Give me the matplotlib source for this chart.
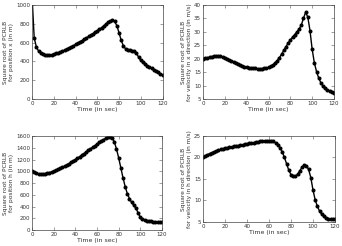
import matplotlib
matplotlib.use("Agg")
import matplotlib.pyplot as plt
import numpy as np

# time grid (sec)
t = np.arange(0, 121, 2)

pos_x = [1100, 650, 555, 510, 490, 478, 470, 467, 468, 472, 478, 485, 492, 500, 510,
         520, 531, 543, 555, 567, 580, 594, 607, 621, 636, 650, 665, 680, 695, 710,
         726, 742, 760, 778, 797, 815, 830, 838, 825, 780, 705, 625, 565, 535, 525,
         520, 515, 508, 490, 445, 410, 390, 372, 355, 340, 325, 310, 296, 282, 268, 255]

vel_x = [20.0, 20.2, 20.4, 20.6, 20.8, 20.9, 21.0, 21.0, 20.9, 20.7, 20.4, 20.0, 19.6,
         19.2, 18.8, 18.4, 18.0, 17.7, 17.4, 17.1, 16.9, 16.7, 16.6, 16.5, 16.4, 16.3,
         16.3, 16.3, 16.4, 16.5, 16.8, 17.2, 17.7, 18.4, 19.3, 20.4, 21.7, 23.1, 24.5,
         25.8, 27.0, 28.0, 29.0, 30.0, 31.0, 32.5, 35.0, 37.3, 35.5, 30.5, 23.5, 18.5,
         15.2, 12.8, 11.0, 9.8, 9.0, 8.4, 7.9, 7.5, 7.2]

pos_h = [1000, 990, 965, 955, 952, 955, 960, 968, 978, 990, 1003, 1018, 1034, 1051,
         1069, 1088, 1108, 1130, 1152, 1175, 1199, 1224, 1250, 1276, 1302, 1329, 1356,
         1383, 1410, 1437, 1464, 1490, 1515, 1540, 1562, 1580, 1590, 1575, 1500, 1380,
         1230, 1060, 890, 740, 620, 535, 470, 420, 370, 290, 215, 190, 172, 160, 152,
         146, 142, 139, 137, 136, 135]

vel_h = [20.0, 20.3, 20.6, 20.9, 21.1, 21.3, 21.5, 21.7, 21.85, 22.0, 22.1, 22.25,
         22.35, 22.45, 22.55, 22.65, 22.75, 22.85, 22.95, 23.05, 23.15, 23.25, 23.35,
         23.45, 23.55, 23.6, 23.7, 23.75, 23.8, 23.85, 23.85, 23.8, 23.7, 23.4, 23.0,
         22.3, 21.3, 20.0, 18.5, 17.0, 16.0, 15.6, 15.6, 16.1, 16.9, 17.7, 18.2, 18.1,
         17.2, 15.3, 12.4, 10.1, 8.6, 7.5, 6.8, 6.3, 6.0, 5.8, 5.7, 5.6, 5.6]

panels = [
    (pos_x, "Square root of PCRLB\nfor position x (in m)", (0, 1000), np.arange(0, 1001, 200),
     [0.0936, 0.5976, 0.3816, 0.382]),
    (vel_x, "Square root of PCRLB\nfor velocity in x direction (in m/s)", (5, 40), np.arange(5, 41, 5),
     [0.5936, 0.5976, 0.383, 0.382]),
    (pos_h, "Square root of PCRLB\nfor position h (in m)", (0, 1600), np.arange(0, 1601, 200),
     [0.0936, 0.065, 0.380, 0.382]),
    (vel_h, "Square root of PCRLB\nfor velocity in h direction (in m/s)", (5, 25), np.arange(5, 26, 5),
     [0.5936, 0.0976, 0.386, 0.35]),
]

txt = "#333333"
fig = plt.figure(figsize=(3.42, 2.46), dpi=100)

for vals, ylab, ylim, yticks, rect in panels:
    ax = fig.add_axes(rect)
    ax.plot(t, vals, color="black", linewidth=1.0, marker="o", markersize=1.9)
    ax.set_xlim(0, 120)
    ax.set_ylim(*ylim)
    ax.set_xticks(np.arange(0, 121, 20))
    ax.set_yticks(yticks)
    ax.tick_params(direction="in", length=2, width=0.4, labelsize=4, pad=1.5,
                   top=True, right=True, labelcolor=txt, color="#555555")
    for s in ax.spines.values():
        s.set_linewidth(0.5)
        s.set_color("#444444")
    ax.set_xlabel("Time (in sec)", fontsize=4.5, labelpad=1, color=txt)
    ax.set_ylabel(ylab, fontsize=4.2, labelpad=1.5, linespacing=1.1, color=txt)

fig.savefig("out.png", dpi=100)
